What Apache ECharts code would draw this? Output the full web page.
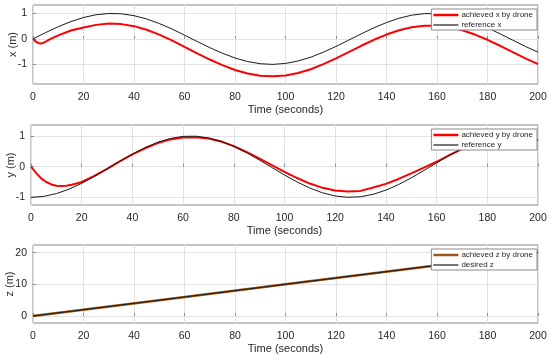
<!DOCTYPE html>
<html>
<head>
<meta charset="utf-8">
<style>
  html, body { margin: 0; padding: 0; background: #fff; }
  #chart { width: 550px; height: 359px; }
</style>
<script src="https://cdn.jsdelivr.net/npm/echarts@6/dist/echarts.min.js"></script>
</head>
<body>
<div id="chart"></div>
<script>
// ---- data ----
const timeRef = [0,5,10,15,20,25,30,35,40,45,50,55,60,65,70,75,80,85,90,95,100,105,110,115,120,125,130,135,140,145,150,155,160,165,170,175,180,185,190,195,200];
const refX = [0,0.247,0.478,0.680,0.840,0.948,0.997,0.985,0.911,0.782,0.603,0.390,0.149,-0.100,-0.342,-0.563,-0.748,-0.889,-0.975,-1.000,-0.963,-0.866,-0.717,-0.522,-0.295,-0.050,0.198,0.434,0.643,0.812,0.931,0.992,0.992,0.930,0.812,0.642,0.434,0.198,-0.050,-0.295,-0.521];
const timeAchX = [0,1,2,3,4,5,7,10,15,20,25,30,35,40,45,50,55,60,65,70,75,80,85,90,95,100,105,110,115,120,125,130,135,140,145,150,155,160,165,170,175,180,185,190,195,200];
const achX = [0,-0.10,-0.16,-0.18,-0.16,-0.11,0.0,0.14,0.33,0.45,0.55,0.60,0.58,0.50,0.36,0.17,-0.06,-0.31,-0.57,-0.81,-1.03,-1.22,-1.36,-1.445,-1.47,-1.435,-1.34,-1.19,-0.99,-0.765,-0.52,-0.27,-0.035,0.17,0.34,0.46,0.52,0.52,0.46,0.34,0.17,-0.035,-0.27,-0.52,-0.765,-0.99];
const refY = [-1,-0.969,-0.878,-0.733,-0.543,-0.319,-0.075,0.174,0.412,0.623,0.798,0.921,0.989,0.995,0.940,0.826,0.663,0.458,0.223,-0.025,-0.271,-0.500,-0.697,-0.853,-0.956,-0.999,-0.980,-0.901,-0.766,-0.583,-0.365,-0.124,0.124,0.365,0.583,0.766,0.901,0.980,0.999,0.956,0.853];
const timeAchY = [0,2,4,6,8,10,12,14,16,18,20,25,30,35,40,45,50,55,60,65,70,75,80,85,90,95,100,105,110,115,120,125,130,135,140,145,150,155,160,165,170,175,180,185,190,195,200];
const achY = [0,-0.20,-0.38,-0.50,-0.58,-0.62,-0.63,-0.62,-0.59,-0.55,-0.50,-0.30,-0.07,0.17,0.40,0.60,0.77,0.89,0.95,0.96,0.92,0.82,0.67,0.48,0.27,0.05,-0.17,-0.37,-0.55,-0.69,-0.78,-0.81,-0.79,-0.68,-0.56,-0.40,-0.22,-0.03,0.16,0.38,0.57,0.73,0.85,0.93,0.96,0.94,0.87];
const timeZ = [0,50,100,150,200];
const achZ = [0,5,10,15,20];
const desZ = [0,5,10,15,20];
const xTicks = [0,20,40,60,80,100,120,140,160,180,200];
const yTicks1 = [-1,0,1];
const yTicks2 = [-1,0,1];
const yTicks3 = [0,10,20];

const pairs = (t, v) => t.map((ti, i) => [ti, v[i]]);

const FONT = '"Liberation Sans", Arial, Helvetica, sans-serif';
const TXT = '#262626';
const FRAME = '#8a8a8a';
const GRIDC = '#e2e2e2';
const ICON_THICK = 'path://M0,0H25V2.5H0Z';
const ICON_THIN = 'path://M0,0H25V1.2H0Z';

function xAx(i) {
  return {
    type: 'value', gridIndex: i, min: 0, max: 200, interval: 20,
    name: 'Time (seconds)', nameLocation: 'middle', nameGap: 20, nameMoveOverlap: false,
    nameTextStyle: { fontSize: 11, color: TXT, fontFamily: FONT },
    axisLine: { show: false },
    axisTick: { show: true, inside: true, length: 3, lineStyle: { color: FRAME } },
    axisLabel: { fontSize: 10.5, color: TXT, fontFamily: FONT, margin: 8 },
    splitLine: { show: true, lineStyle: { color: GRIDC, width: 1 } }
  };
}
function yAx(i, name, min, max, ticks, gap) {
  return {
    type: 'value', gridIndex: i, min: min, max: max,
    name: name, nameLocation: 'middle', nameGap: gap, nameMoveOverlap: false,
    nameTextStyle: { fontSize: 11, color: TXT, fontFamily: FONT },
    axisLine: { show: false },
    axisTick: { show: true, inside: true, length: 3, lineStyle: { color: FRAME }, customValues: ticks },
    axisLabel: { fontSize: 10.5, color: TXT, fontFamily: FONT, margin: 6, customValues: ticks },
    splitLine: { show: true, lineStyle: { color: GRIDC, width: 1 } }
  };
}
function leg(top, names, colors) {
  return {
    data: [
      { name: names[0], icon: ICON_THICK, itemStyle: { color: colors[0] } },
      { name: names[1], icon: ICON_THIN, itemStyle: { color: colors[1] } }
    ],
    orient: 'vertical', right: 13, top: top,
    itemWidth: 25, itemHeight: 9, itemGap: 2,
    padding: [2, 4, 1, 2],
    backgroundColor: '#fff', borderColor: FRAME, borderWidth: 1, borderRadius: 0,
    textStyle: { fontSize: 8, color: TXT, fontFamily: FONT, padding: [0, 0, 0, -2] },
    selectedMode: false
  };
}
function line(name, xi, data, color, width) {
  return {
    name: name, type: 'line', xAxisIndex: xi, yAxisIndex: xi, data: data,
    symbol: 'none', showSymbol: false, smooth: false,
    lineStyle: { color: color, width: width }, itemStyle: { color: color },
    emphasis: { disabled: true }, silent: true
  };
}
function grid(left, top, height) {
  return { left: left, right: 12, top: top, height: height, containLabel: false, outerBoundsMode: 'none',
           show: true, borderColor: FRAME, borderWidth: 1, backgroundColor: '#fff' };
}

const chart = echarts.init(document.getElementById('chart'), null, { renderer: 'canvas' });
chart.setOption({
  animation: false,
  backgroundColor: '#fff',
  grid: [grid(33, 5, 79), grid(31, 125, 80), grid(33, 245, 78)],
  xAxis: [xAx(0), xAx(1), xAx(2)],
  yAxis: [
    yAx(0, 'x (m)', -1.77, 1.33, yTicks1, 15),
    yAx(1, 'y (m)', -1.25, 1.36, yTicks2, 14.5),
    yAx(2, 'z (m)', -2.2, 22.4, yTicks3, 17.5)
  ],
  legend: [
    leg(9, ['achieved x by drone', 'reference x'], ['#ff0000', '#1a1a1a']),
    leg(129, ['achieved y by drone', 'reference y'], ['#ff0000', '#1a1a1a']),
    leg(249, ['achieved z by drone', 'desired z'], ['#9c5518', '#1a1a1a'])
  ],
  series: [
    line('achieved x by drone', 0, pairs(timeAchX, achX), '#ff0000', 2),
    line('reference x', 0, pairs(timeRef, refX), '#1a1a1a', 1),
    line('achieved y by drone', 1, pairs(timeAchY, achY), '#ff0000', 2),
    line('reference y', 1, pairs(timeRef, refY), '#1a1a1a', 1),
    line('achieved z by drone', 2, pairs(timeZ, achZ), '#9c5518', 2.5),
    line('desired z', 2, pairs(timeZ, desZ), '#1a1a1a', 1)
  ]
});
</script>
</body>
</html>
